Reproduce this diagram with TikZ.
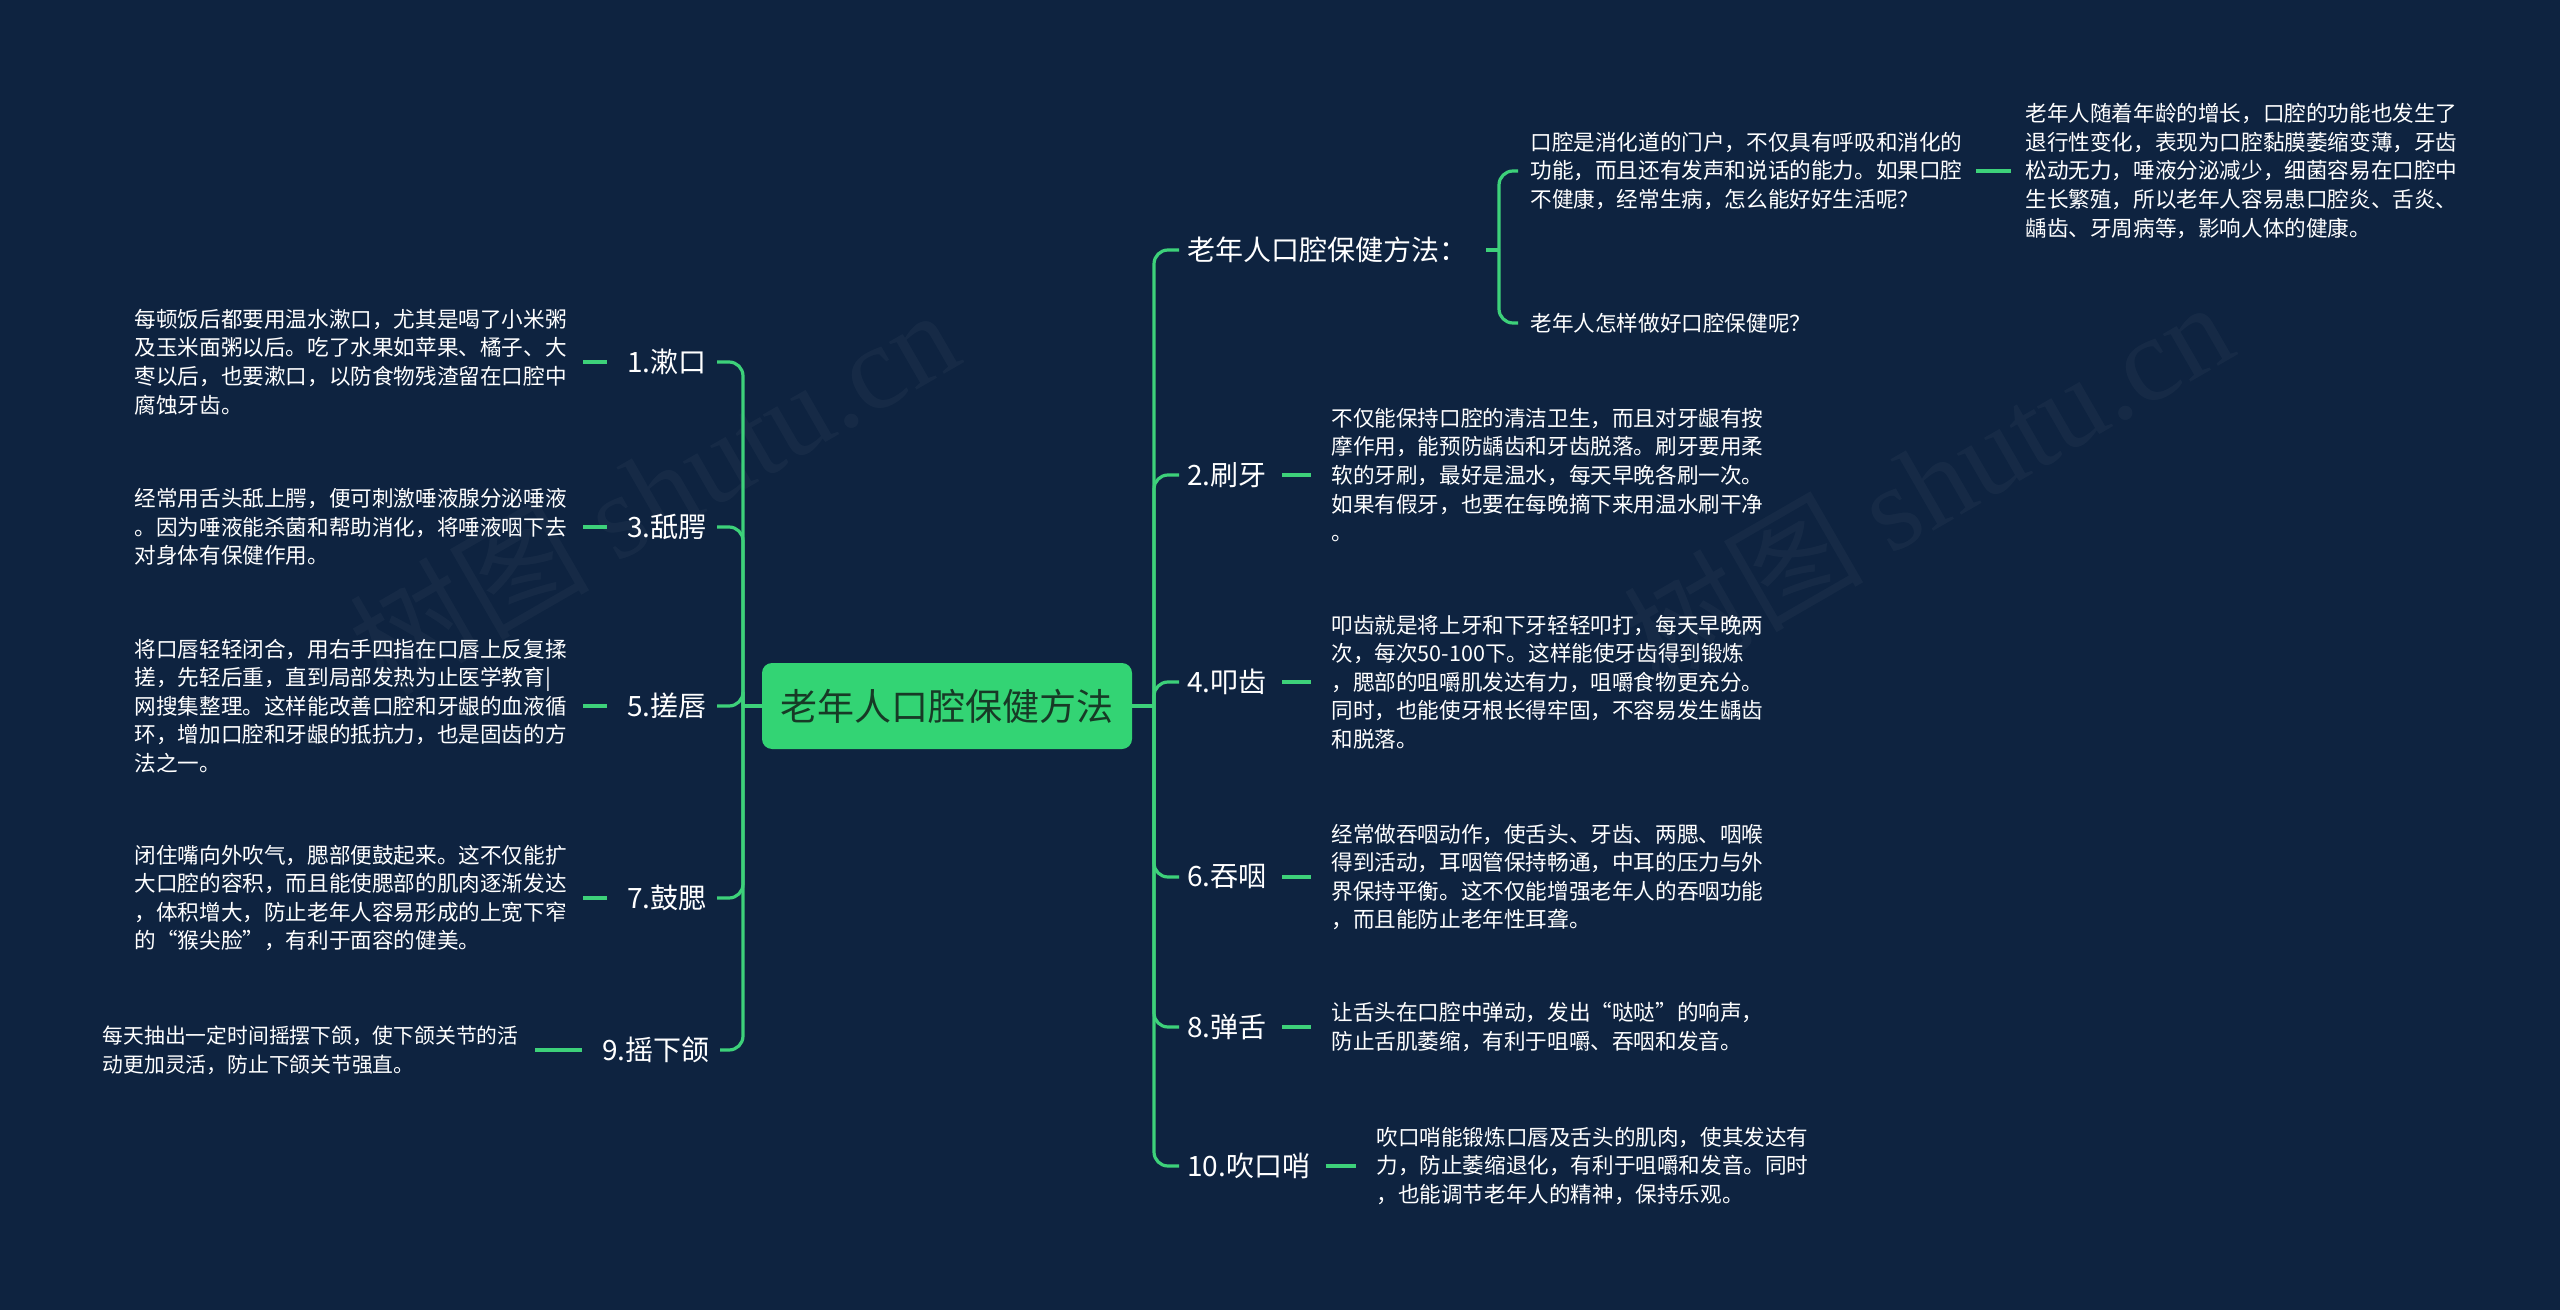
\documentclass[tikz,border=0pt]{standalone}
\usepackage{fontspec}
\setmainfont{Noto Sans CJK SC}
\newfontfamily\wmserif{Liberation Serif}
\definecolor{bgc}{HTML}{0E2340}
\definecolor{linec}{HTML}{3DD17A}
\definecolor{boxc}{HTML}{33D474}
\definecolor{boxtext}{HTML}{173A26}
\tikzset{
  conn/.style={draw=linec, line width=1.6pt},
  rconn/.style={conn, rounded corners=7pt},
  lbl/.style={inner sep=0pt, text=white, font=\fontsize{14}{16}\selectfont},
  txt/.style={inner sep=0pt, text=white, align=left, font=\fontsize{10.8}{14.3}\selectfont},
  wm/.style={rotate=30, text=white, opacity=0.035, font=\fontsize{60}{60}\selectfont}
}
\begin{document}
\begin{tikzpicture}[x=0.5pt, y=-0.5pt]
\fill[bgc] (0,0) rectangle (2560,1310);
\useasboundingbox (0,0) rectangle (2560,1310);

% watermarks
\node[wm] (wm1) at (653,490) {树图 {\wmserif shutu.cn}};
\node[wm] (wm2) at (1927,482) {树图 {\wmserif shutu.cn}};

% central node
\node[fill=boxc, rounded corners=5pt, minimum width=185pt, minimum height=43pt, inner sep=0pt,
      text=boxtext, font=\fontsize{18.5}{20}\selectfont] (c) at (947,706) {老年人口腔保健方法};

\coordinate (lj) at (743,706);
\coordinate (rj) at (1154,706);

% left labels
\node[lbl, anchor=east] (l1) at (707,362) {1.漱口};
\node[lbl, anchor=east] (l3) at (707,527) {3.舐腭};
\node[lbl, anchor=east] (l5) at (707,706) {5.搓唇};
\node[lbl, anchor=east] (l7) at (707,898) {7.鼓腮};
\node[lbl, anchor=east] (l9) at (710,1050) {9.摇下颌};

% left texts
\node[txt, anchor=east] (t1) at (567,362) {每顿饭后都要用温水漱口，尤其是喝了小米粥\\及玉米面粥以后。吃了水果如苹果、橘子、大\\枣以后，也要漱口，以防食物残渣留在口腔中\\腐蚀牙齿。};
\node[txt, anchor=east] (t3) at (567,527) {经常用舌头舐上腭，便可刺激唾液腺分泌唾液\\。因为唾液能杀菌和帮助消化，将唾液咽下去\\对身体有保健作用。};
\node[txt, anchor=east] (t5) at (567,706) {将口唇轻轻闭合，用右手四指在口唇上反复揉\\搓，先轻后重，直到局部发热为止医学教育|\\网搜集整理。这样能改善口腔和牙龈的血液循\\环，增加口腔和牙龈的抵抗力，也是固齿的方\\法之一。};
\node[txt, anchor=east] (t7) at (567,898) {闭住嘴向外吹气，腮部便鼓起来。这不仅能扩\\大口腔的容积，而且能使腮部的肌肉逐渐发达\\，体积增大，防止老年人容易形成的上宽下窄\\的“猴尖脸”，有利于面容的健美。};
\node[txt, anchor=east, font=\fontsize{10.4}{14.3}\selectfont] (t9) at (519,1050) {每天抽出一定时间摇摆下颌，使下颌关节的活\\动更加灵活，防止下颌关节强直。};

% right labels
\node[lbl, anchor=west] (h)   at (1187,250)  {老年人口腔保健方法：};
\node[lbl, anchor=west] (r2)  at (1187,475)  {2.刷牙};
\node[lbl, anchor=west] (r4)  at (1187,682)  {4.叩齿};
\node[lbl, anchor=west] (r6)  at (1187,877)  {6.吞咽};
\node[lbl, anchor=west] (r8)  at (1187,1027) {8.弹舌};
\node[lbl, anchor=west] (r10) at (1187,1166) {10.吹口哨};

% right texts
\node[txt, anchor=west] (u2) at (1331,475) {不仅能保持口腔的清洁卫生，而且对牙龈有按\\摩作用，能预防龋齿和牙齿脱落。刷牙要用柔\\软的牙刷，最好是温水，每天早晚各刷一次。\\如果有假牙，也要在每晚摘下来用温水刷干净\\。};
\node[txt, anchor=west] (u4) at (1331,682) {叩齿就是将上牙和下牙轻轻叩打，每天早晚两\\次，每次50-100下。这样能使牙齿得到锻炼\\，腮部的咀嚼肌发达有力，咀嚼食物更充分。\\同时，也能使牙根长得牢固，不容易发生龋齿\\和脱落。};
\node[txt, anchor=west] (u6) at (1331,877) {经常做吞咽动作，使舌头、牙齿、两腮、咽喉\\得到活动，耳咽管保持畅通，中耳的压力与外\\界保持平衡。这不仅能增强老年人的吞咽功能\\，而且能防止老年性耳聋。};
\node[txt, anchor=west] (u8) at (1331,1027) {让舌头在口腔中弹动，发出“哒哒”的响声，\\防止舌肌萎缩，有利于咀嚼、吞咽和发音。};
\node[txt, anchor=west] (u10) at (1376,1166) {吹口哨能锻炼口唇及舌头的肌肉，使其发达有\\力，防止萎缩退化，有利于咀嚼和发音。同时\\，也能调节老年人的精神，保持乐观。};

% top-right sub branch
\coordinate (hj) at (1499,250);
\node[txt, anchor=west] (s1) at (1530,171) {口腔是消化道的门户，不仅具有呼吸和消化的\\功能，而且还有发声和说话的能力。如果口腔\\不健康，经常生病，怎么能好好生活呢？};
\node[txt, anchor=west] (s2) at (1530,323) {老年人怎样做好口腔保健呢？};
\node[txt, anchor=west] (s1c) at (2025,171) {老年人随着年龄的增长，口腔的功能也发生了\\退行性变化，表现为口腔黏膜萎缩变薄，牙齿\\松动无力，唾液分泌减少，细菌容易在口腔中\\生长繁殖，所以老年人容易患口腔炎、舌炎、\\龋齿、牙周病等，影响人体的健康。};

% connectors: center to trunks
\draw[conn] (c.west) -- (lj);
\draw[conn] (c.east) -- (rj);
\foreach \n in {l1,l3,l5,l7,l9}{
  \draw[rconn, shorten >=5pt] (lj) |- (\n.east);
}
\foreach \n in {h,r2,r4,r6,r8,r10}{
  \draw[rconn, shorten >=4pt] (rj) |- (\n.west);
}
% label to text
\foreach \a/\b in {l1/t1,l3/t3,l5/t5,l7/t7,l9/t9}{
  \draw[conn, shorten <=10pt, shorten >=8pt] (\a.west) -- (\b.east);
}
\foreach \a/\b in {r2/u2,r4/u4,r6/u6,r8/u8,r10/u10}{
  \draw[conn, shorten <=7.5pt, shorten >=10pt] (\a.east) -- (\b.west);
}
% sub branch
\draw[conn, shorten <=9pt] (h.east) -- (hj);
\draw[rconn, shorten >=6pt] (hj) |- (s1.west);
\draw[rconn, shorten >=6pt] (hj) |- (s2.west);
\draw[conn, shorten <=6.5pt, shorten >=7pt] (s1.east) -- (s1c.west);
\end{tikzpicture}
\end{document}
